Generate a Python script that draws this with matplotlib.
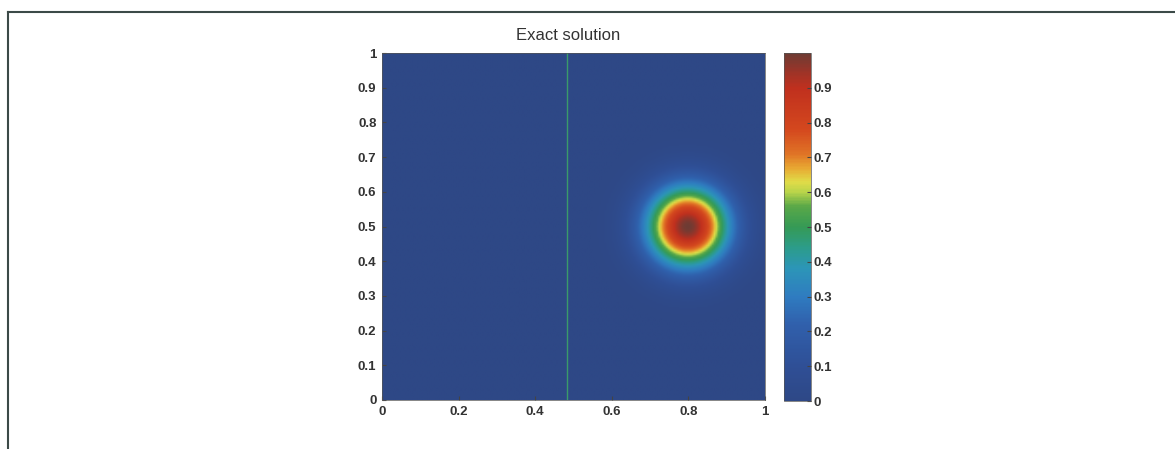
import matplotlib.pyplot as plt
import numpy as np
from matplotlib.colors import LinearSegmentedColormap
from matplotlib.lines import Line2D

plt.rcParams['font.family'] = ['Liberation Sans', 'DejaVu Sans']

# field: single gaussian bump
center_x = 0.80
center_y = 0.50
sigma_x = 0.076
sigma_y = 0.082
peak = 1.0
grid_n = 201

# vertical line seen in the plot
line_x = 0.483

x_ticks = [0, 0.2, 0.4, 0.6, 0.8, 1]
x_labels = ['0', '0.2', '0.4', '0.6', '0.8', '1']
y_ticks = [0, 0.1, 0.2, 0.3, 0.4, 0.5, 0.6, 0.7, 0.8, 0.9, 1]
y_labels = ['0', '0.1', '0.2', '0.3', '0.4', '0.5', '0.6', '0.7', '0.8', '0.9', '1']
cb_ticks = [0, 0.1, 0.2, 0.3, 0.4, 0.5, 0.6, 0.7, 0.8, 0.9]
cb_labels = ['0', '0.1', '0.2', '0.3', '0.4', '0.5', '0.6', '0.7', '0.8', '0.9']

# muted jet-like colormap, as printed
cmap = LinearSegmentedColormap.from_list('printed_jet', [
    (0.00, '#2e4886'),
    (0.10, '#2f4f96'),
    (0.22, '#3060ac'),
    (0.30, '#2f7cc0'),
    (0.38, '#2c95b8'),
    (0.44, '#2c9c8a'),
    (0.50, '#359a55'),
    (0.56, '#5aa848'),
    (0.60, '#b8d44a'),
    (0.63, '#e0dc48'),
    (0.67, '#e8a832'),
    (0.71, '#e07426'),
    (0.78, '#d4481e'),
    (0.90, '#c0301e'),
    (0.95, '#9a3428'),
    (1.00, '#6e3c34'),
])

xs = np.linspace(0, 1, grid_n)
ys = np.linspace(0, 1, grid_n)
X, Y = np.meshgrid(xs, ys)
Z = peak * np.exp(-((X - center_x) ** 2 / (2 * sigma_x ** 2)
                    + (Y - center_y) ** 2 / (2 * sigma_y ** 2)))

fig = plt.figure(figsize=(11.75, 4.49), dpi=100, facecolor='white')
ax = fig.add_axes([382 / 1175, 1 - 400 / 449, 383 / 1175, 347 / 449])
cax = fig.add_axes([784 / 1175, 1 - 401 / 449, 27 / 1175, 348 / 449])

im = ax.imshow(Z, origin='lower', extent=[0, 1, 0, 1], cmap=cmap,
               vmin=0, vmax=1.0, aspect='auto', interpolation='bilinear')
ax.axvline(line_x, color='#3a9a6a', lw=1.0)

ax.set_xticks(x_ticks)
ax.set_xticklabels(x_labels)
ax.set_yticks(y_ticks)
ax.set_yticklabels(y_labels)
ax.tick_params(direction='in', length=3, labelsize=9.5, pad=4, color='#444444')
for lab in ax.get_xticklabels() + ax.get_yticklabels():
    lab.set_fontweight('bold')
    lab.set_color('#333333')
for sp in ax.spines.values():
    sp.set_linewidth(0.5)
    sp.set_color('#555555')
ax.set_title('Exact solution', fontsize=12, color='#333333', pad=9, x=0.485)

cb = fig.colorbar(im, cax=cax)
cb.set_ticks(cb_ticks)
cb.set_ticklabels(cb_labels)
cax.tick_params(direction='in', length=3, labelsize=9.5, pad=2, color='#444444')
for lab in cax.get_yticklabels():
    lab.set_fontweight('bold')
    lab.set_color('#333333')
cb.outline.set_linewidth(0.5)
cb.outline.set_edgecolor('#555555')

# page frame (top and left edges)
fig.add_artist(Line2D([8 / 1175, 1], [1 - 12 / 449, 1 - 12 / 449],
                      transform=fig.transFigure, color='#3c4a48', lw=1.5))
fig.add_artist(Line2D([8 / 1175, 8 / 1175], [0, 1 - 12 / 449],
                      transform=fig.transFigure, color='#3c4a48', lw=1.5))

plt.savefig('out.png', dpi=100, facecolor='white')
